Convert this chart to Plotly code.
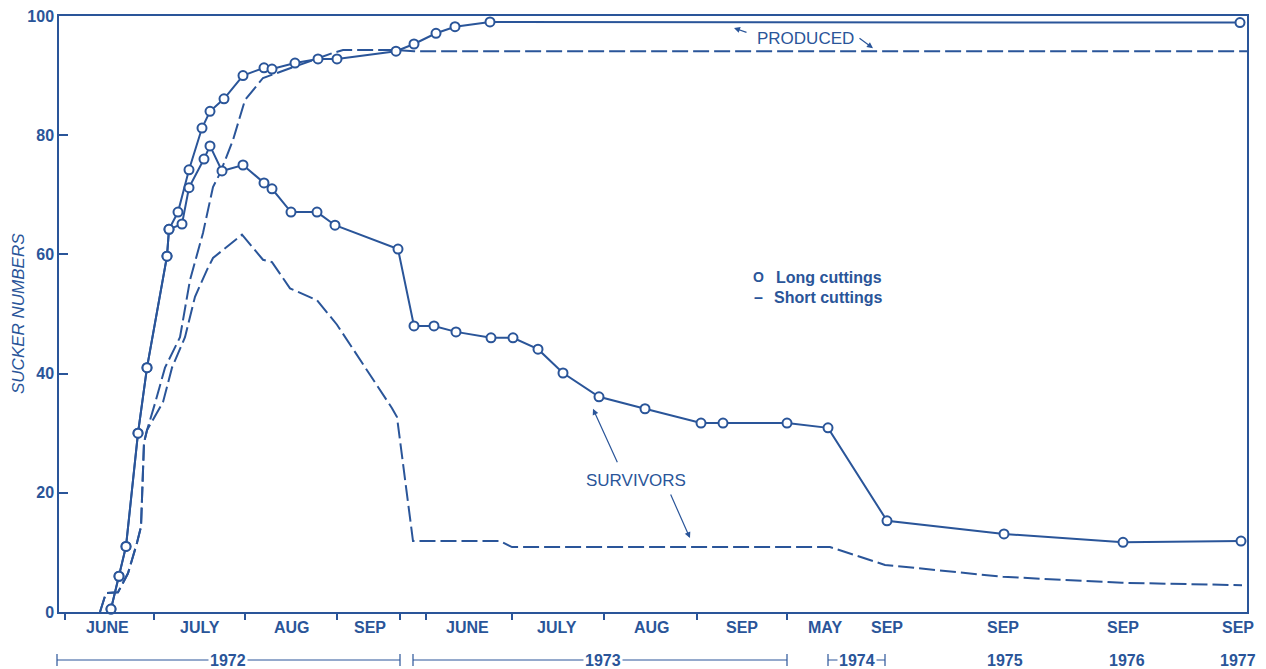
import plotly.graph_objects as go

# Positions along the broken time axis (axis units) and sucker numbers
long_prod_x = [111, 119, 126, 138, 147, 167, 169, 178, 189, 202, 210, 224, 243, 264, 272, 295, 318, 337, 396, 414, 436, 455, 490, 1240]
long_prod_y = [0.5, 6.0, 11.0, 30.0, 41.0, 59.7, 64.2, 67.1, 74.2, 81.2, 84.0, 86.1, 90.0, 91.3, 91.1, 92.1, 92.8, 92.8, 94.1, 95.3, 97.1, 98.2, 99.0, 98.9]

long_surv_x = [111, 119, 126, 138, 147, 167, 169, 182, 189, 204, 210, 222, 243, 264, 272, 291, 317, 335, 398, 414, 434, 456, 491, 513, 538, 563, 599, 645, 701, 723, 787, 828, 887, 1004, 1123, 1241]
long_surv_y = [0.5, 6.0, 11.0, 30.0, 41.0, 59.7, 64.2, 65.1, 71.2, 76.0, 78.2, 74.0, 75.0, 72.0, 71.0, 67.1, 67.1, 64.9, 60.9, 48.0, 48.0, 47.0, 46.0, 46.0, 44.1, 40.1, 36.1, 34.1, 31.7, 31.7, 31.7, 30.9, 15.3, 13.1, 11.7, 11.9]

short_prod_x = [100, 106, 118, 128, 137, 141, 144, 147, 155, 165, 180, 190, 203, 213, 220, 233, 245, 263, 333, 343, 393, 414, 1247]
short_prod_y = [0.0, 3.2, 3.3, 6.5, 11.6, 14.3, 28.4, 30.5, 35.0, 41.0, 46.1, 55.7, 63.6, 71.3, 73.6, 79.2, 85.9, 89.6, 93.8, 94.3, 94.3, 94.1, 94.1]

short_surv_x = [100, 106, 118, 128, 137, 141, 144, 147, 163, 172, 185, 195, 207, 213, 242, 263, 272, 290, 317, 337, 392, 397, 413, 500, 512, 830, 885, 1003, 1122, 1242]
short_surv_y = [0.0, 3.2, 3.3, 6.5, 11.6, 14.3, 28.4, 30.5, 35.2, 41.0, 46.1, 52.9, 57.4, 59.4, 63.3, 59.1, 58.7, 54.3, 52.3, 48.2, 34.2, 32.7, 11.9, 11.9, 10.9, 10.9, 7.9, 5.9, 4.9, 4.5]

x_tick_pos = [65, 154, 245, 337, 400, 426, 512, 604, 697, 787]
month_labels = ["JUNE", "JULY", "AUG", "SEP", "JUNE", "JULY", "AUG", "SEP", "MAY", "SEP", "SEP", "SEP", "SEP"]
month_pos = [107, 200, 292, 370, 467, 557, 652, 742, 825, 887, 1003, 1123, 1238]
year_labels = ["1972", "1973", "1974", "1975", "1976", "1977"]
year_pos = [228, 603, 857, 1005, 1127, 1238]
year_spans = [(57, 400), (413, 787), (828, 885)]
y_ticks = [0, 20, 40, 60, 80, 100]

BLUE = "#2a5599"
FONT = "Liberation Sans"
X0, X1 = 59, 1247

fig = go.Figure()
line_kw = dict(color=BLUE, width=2)
mk = dict(symbol="circle", size=9, color="white", line=dict(color=BLUE, width=2))
dash = "16px,5px"

fig.add_trace(go.Scatter(x=short_prod_x, y=short_prod_y, mode="lines",
                         line=dict(color=BLUE, width=2, dash=dash), showlegend=False))
fig.add_trace(go.Scatter(x=short_surv_x, y=short_surv_y, mode="lines",
                         line=dict(color=BLUE, width=2, dash=dash), showlegend=False))
fig.add_trace(go.Scatter(x=long_prod_x, y=long_prod_y, mode="lines+markers",
                         line=line_kw, marker=mk, showlegend=False, cliponaxis=False))
fig.add_trace(go.Scatter(x=long_surv_x, y=long_surv_y, mode="lines+markers",
                         line=line_kw, marker=mk, showlegend=False, cliponaxis=False))

lab_font = dict(family=FONT, size=16, color=BLUE, weight="bold")
ann = []
for lab, p in zip(month_labels, month_pos):
    ann.append(dict(x=p, y=0, xref="x", yref="paper", yshift=-15, text=lab, showarrow=False,
                    font=lab_font, xanchor="center", yanchor="middle"))
for lab, p in zip(year_labels, year_pos):
    ann.append(dict(x=p, y=0, xref="x", yref="paper", yshift=-48, text=lab, showarrow=False,
                    bgcolor="white", font=lab_font, xanchor="center", yanchor="middle"))

# y-axis title
ann.append(dict(x=0, y=0.5, xref="paper", yref="paper", xshift=-41, text="<i>SUCKER NUMBERS</i>",
                textangle=-90, showarrow=False, xanchor="center", yanchor="middle",
                font=dict(family=FONT, size=17, color=BLUE)))

# text labels and arrows
ann.append(dict(x=805, y=96.3, text="PRODUCED", showarrow=False,
                font=dict(family=FONT, size=17, color=BLUE)))
ann.append(dict(x=636, y=22.1, text="SURVIVORS", showarrow=False,
                font=dict(family=FONT, size=17, color=BLUE)))
for (tx, ty, axp, ayp) in [(734, 98.0, 14, 5), (873, 94.6, -15, -11), (593, 34.1, 25, 55), (690, 12.4, -20, -45)]:
    ann.append(dict(x=tx, y=ty, text="", showarrow=True, ax=axp, ay=ayp, arrowhead=2,
                    arrowsize=1, arrowwidth=1.2, arrowcolor=BLUE))
# legend
ann.append(dict(x=758, y=56.2, text="<b>O</b>", showarrow=False, xanchor="center",
                font=dict(family=FONT, size=14, color=BLUE)))
ann.append(dict(x=774, y=56.2, text="Long cuttings", showarrow=False, xanchor="left",
                font=dict(family=FONT, size=16, color=BLUE, weight="bold")))
ann.append(dict(x=758, y=52.7, text="<b>–</b>", showarrow=False, xanchor="center",
                font=dict(family=FONT, size=16, color=BLUE)))
ann.append(dict(x=772, y=52.7, text="Short cuttings", showarrow=False, xanchor="left",
                font=dict(family=FONT, size=16, color=BLUE, weight="bold")))


def px(v):
    return (v - X0) / (X1 - X0)


shapes = []
for (a, b), lab, p in zip(year_spans, year_labels, year_pos):
    shapes.append(dict(type="line", xref="paper", yref="paper", ysizemode="pixel", yanchor=0,
                       x0=px(a), x1=px(b), y0=-48, y1=-48, line=dict(color=BLUE, width=1)))
    for e in (a, b):
        shapes.append(dict(type="line", xref="paper", yref="paper", ysizemode="pixel", yanchor=0,
                           x0=px(e), x1=px(e), y0=-42, y1=-54, line=dict(color=BLUE, width=1.2)))

fig.update_layout(
    width=1266, height=669,
    margin=dict(l=59, r=19, t=16, b=57, autoexpand=False),
    paper_bgcolor="white", plot_bgcolor="white",
    annotations=ann, shapes=shapes,
    xaxis=dict(range=[X0, X1], showgrid=False, zeroline=False, showline=True, mirror=True,
               linecolor=BLUE, linewidth=1.5, tickvals=x_tick_pos, ticks="outside", ticklen=6,
               tickcolor=BLUE, tickwidth=1.5, showticklabels=False, automargin=False),
    yaxis=dict(range=[0, 100], showgrid=False, zeroline=False, showline=True, mirror=True,
               linecolor=BLUE, linewidth=1.5, tickvals=y_ticks, ticks="inside", ticklen=9,
               tickcolor=BLUE, tickwidth=1.5, automargin=False,
               tickfont=dict(family=FONT, size=16, color=BLUE, weight="bold")),
)

fig.write_html("out.html", config={"displayModeBar": False},
               post_script="document.body.style.margin='0px';")
